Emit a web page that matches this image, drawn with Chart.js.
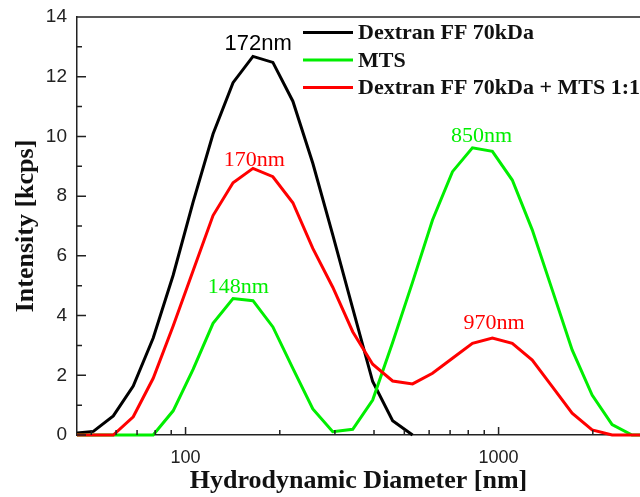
<!DOCTYPE html>
<html>
<head>
<meta charset="utf-8">
<script src="https://cdn.jsdelivr.net/npm/chart.js@4/dist/chart.umd.min.js"></script>
<style>
  html, body { margin: 0; padding: 0; background: #fff; }
  #wrap { width: 640px; height: 497px; }
</style>
</head>
<body>
<div id="wrap"><canvas id="dlsChart"></canvas></div>
<script>
// Tamaños de bin (nm) y curvas de intensidad
const sizesNm = [43.82, 50.75, 58.77, 68.06, 78.82, 91.28, 105.7, 122.4, 141.8, 164.2,
                 190.1, 220.2, 255.0, 295.3, 342.0, 396.1, 458.7, 531.2, 615.1, 712.4,
                 825.0, 955.4, 1106, 1281, 1484, 1718, 1990, 2305, 2669, 3091];

const dextranValues = [0.05, 0.12, 0.64, 1.64, 3.25, 5.35, 7.8, 10.08, 11.8, 12.68,
                       12.48, 11.18, 9.1, 6.7, 4.24, 1.79, 0.48, 0];

const mtsValues = [0, 0, 0, 0, 0, 0.81, 2.2, 3.74, 4.57, 4.5,
                   3.62, 2.23, 0.87, 0.11, 0.19, 1.17, 3.1, 5.12, 7.2, 8.82,
                   9.62, 9.5, 8.54, 6.87, 4.86, 2.85, 1.34, 0.35, 0, 0];

const mixValues = [0, 0, 0, 0.61, 1.9, 3.65, 5.5, 7.35, 8.45, 8.93,
                   8.65, 7.78, 6.25, 4.95, 3.46, 2.37, 1.81, 1.71, 2.07, 2.57,
                   3.07, 3.25, 3.07, 2.51, 1.62, 0.73, 0.17, 0, 0, 0];

const seriesNames = ['Dextran FF 70kDa', 'MTS', 'Dextran FF 70kDa + MTS 1:1'];

const yTicks = [0, 2, 4, 6, 8, 10, 12, 14];
const xTickLabels = [100, 1000];

// Etiquetas de picos (serie a la que pertenecen)
const peakLabels = ['172nm', '170nm', '148nm', '850nm', '970nm'];
const peakX = [170.6, 165.7, 147.3, 882, 967];
const peakY = [12.88, 9.0, 4.76, 9.82, 3.55];
const peakSeries = [0, 2, 1, 1, 2];

const COLORS = ['#000000', '#00ee00', '#ff0000'];
const AXIS_COLOR = '#222';
const SERIF = "'Liberation Serif', 'Times New Roman', serif";
const SANS = "'Liberation Sans', Arial, sans-serif";

const toPoints = vals => vals.map((v, i) => ({ x: sizesNm[i], y: v }));

// --- Marco superior, ticks interiores (mayores y menores) ---
const frameTicks = {
  id: 'frameTicks',
  afterDatasetsDraw(chart) {
    const { ctx, chartArea: a, scales: { x, y } } = chart;
    ctx.save();
    ctx.strokeStyle = AXIS_COLOR;
    ctx.lineWidth = 1.5;
    ctx.beginPath();
    ctx.moveTo(a.left, a.top);
    ctx.lineTo(a.right, a.top);

    y.ticks.forEach((t, i) => {
      const py = y.getPixelForValue(t.value);
      ctx.moveTo(a.left, py);
      ctx.lineTo(a.left + 9, py);
      if (i < y.ticks.length - 1) {
        const pm = y.getPixelForValue((t.value + y.ticks[i + 1].value) / 2);
        ctx.moveTo(a.left, pm);
        ctx.lineTo(a.left + 5, pm);
      }
    });

    x.ticks.forEach(t => {
      const v = t.value;
      const exp = Math.floor(Math.log10(v) + 1e-9);
      const sig = v / Math.pow(10, exp);
      if (Math.abs(sig - Math.round(sig)) > 1e-6) return;
      const px = x.getPixelForValue(v);
      if (px < a.left + 1 || px > a.right) return;
      const len = Math.round(sig) === 1 ? 8 : 5;
      ctx.moveTo(px, a.bottom);
      ctx.lineTo(px, a.bottom - len);
    });
    ctx.stroke();
    ctx.restore();
  }
};

// --- Leyenda dentro del área y etiquetas de picos ---
const legendAndPeaks = {
  id: 'legendAndPeaks',
  afterDraw(chart) {
    const { ctx, chartArea: a, scales: { x, y } } = chart;
    ctx.save();
    ctx.textBaseline = 'middle';
    ctx.textAlign = 'left';
    ctx.font = `bold 22px ${SERIF}`;
    chart.data.datasets.forEach((ds, i) => {
      const ly = a.top + 15.5 + i * 27.5;
      const lx = a.left + 226;
      ctx.strokeStyle = ds.borderColor;
      ctx.lineWidth = 3;
      ctx.beginPath();
      ctx.moveTo(lx, ly);
      ctx.lineTo(lx + 50, ly);
      ctx.stroke();
      ctx.fillStyle = '#111';
      ctx.fillText(ds.label, lx + 55, ly + 1);
    });

    ctx.textAlign = 'center';
    ctx.textBaseline = 'alphabetic';
    peakLabels.forEach((txt, i) => {
      const s = peakSeries[i];
      ctx.font = s === 0 ? `22px ${SANS}` : `22px ${SERIF}`;
      ctx.fillStyle = COLORS[s];
      ctx.fillText(txt, x.getPixelForValue(peakX[i]), y.getPixelForValue(peakY[i]));
    });
    ctx.restore();
  }
};

const allSeries = [dextranValues, mtsValues, mixValues];
const drawOrder = [2, 1, 0];

new Chart(document.getElementById('dlsChart'), {
  type: 'line',
  data: {
    datasets: allSeries.map((vals, i) => ({
      label: seriesNames[i],
      data: toPoints(vals),
      borderColor: COLORS[i],
      borderWidth: 3,
      pointRadius: 0,
      tension: 0,
      fill: false,
      order: drawOrder[i],
      clip: { left: 0, top: 0, right: 0, bottom: 3 }
    }))
  },
  options: {
    responsive: true,
    maintainAspectRatio: false,
    animation: false,
    layout: { padding: { top: 17, right: 0, left: 0, bottom: 0 } },
    plugins: {
      legend: { display: false },
      tooltip: { enabled: false }
    },
    scales: {
      x: {
        type: 'logarithmic',
        min: 45,
        max: 2830,
        grid: { display: false },
        border: { display: true, color: AXIS_COLOR, width: 1.5 },
        ticks: {
          autoSkip: false,
          maxRotation: 0,
          padding: 4,
          color: '#222',
          font: { family: SANS, size: 18 },
          callback: v => xTickLabels.includes(v) ? String(v) : ''
        },
        title: {
          display: true,
          text: 'Hydrodynamic Diameter [nm]',
          color: '#111',
          font: { family: SERIF, size: 26, weight: 'bold' },
          padding: { top: 0, bottom: 0 }
        },
        afterFit: s => { s.height = 62; s.paddingLeft = 0; s.paddingRight = 0; }
      },
      y: {
        min: 0,
        max: 14,
        afterBuildTicks: s => { s.ticks = yTicks.map(v => ({ value: v })); },
        grid: { display: false },
        border: { display: true, color: AXIS_COLOR, width: 1.5 },
        ticks: {
          padding: 2,
          color: '#222',
          font: { family: SANS, size: 19 }
        },
        title: {
          display: true,
          text: 'Intensity [kcps]',
          color: '#111',
          font: { family: SERIF, size: 26, weight: 'bold' },
          padding: { top: 11, bottom: 0 }
        },
        afterFit: s => { s.width = 77; }
      }
    }
  },
  plugins: [frameTicks, legendAndPeaks]
});
</script>
</body>
</html>
